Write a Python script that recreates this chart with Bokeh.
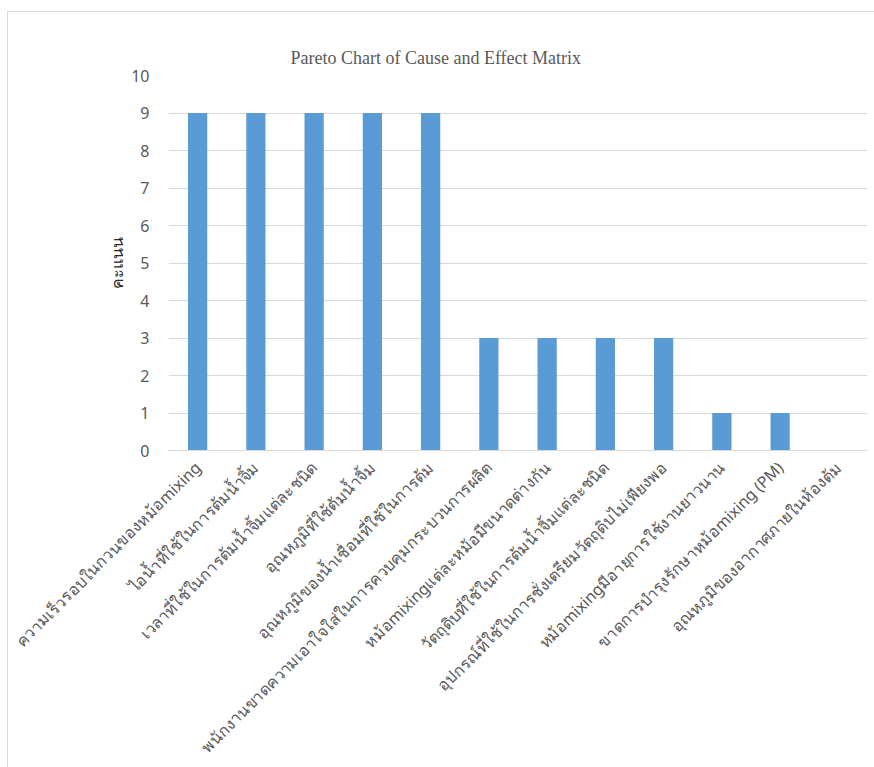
from math import pi

from bokeh.embed import file_html
from bokeh.models import ColumnDataSource, Title
from bokeh.plotting import figure
from bokeh.resources import INLINE

# Causes, in Pareto order, and their scores
causes = [
    "ความเร็วรอบในกวนของหม้อmixing",
    "ไอน้ำที่ใช้ในการต้มน้ำจิ้ม",
    "เวลาที่ใช้ในการต้มน้ำจิ้มแต่ละชนิด",
    "อุณหภูมิที่ใช้ต้มน้ำจิ้ม",
    "อุณหภูมิของน้ำเชื่อมที่ใช้ในการต้ม",
    "พนักงานขาดความเอาใจใส่ในการควบคุมกระบวนการผลิต",
    "หม้อmixingแต่ละหม้อมีขนาดต่างกัน",
    "วัตถุดิบที่ใช้ในการต้มน้ำจิ้มแต่ละชนิด",
    "อุปกรณ์ที่ใช้ในการชั่งเตรียมวัตถุดิบไม่เพียงพอ",
    "หม้อmixingมีอายุการใช้งานยาวนาน",
    "ขาดการบำรุงรักษาหม้อmixing (PM)",
    "อุณหภูมิของอากาศภายในห้องต้ม",
]
scores = [9, 9, 9, 9, 9, 3, 3, 3, 3, 1, 1, 0]
y_ticks = list(range(0, 11))

GRID = "#d9d9d9"
TEXT = "#595959"
BAR = "#5b9bd5"
FONT = "Noto Sans"

source = ColumnDataSource(dict(cause=causes, score=scores))

p = figure(
    x_range=causes,
    y_range=(0, 10),
    width=867,
    height=756,
    output_backend="svg",
    toolbar_location=None,
    min_border_left=160,
    min_border_right=8,
    min_border_top=63,
    min_border_bottom=318,
)
p.margin = (11, 0, 0, 7)
p.styles = {"border-top": f"1px solid {GRID}", "border-left": f"1px solid {GRID}"}

p.vbar(x="cause", top="score", width=0.33, source=source, color=BAR, line_color=None)

p.add_layout(
    Title(
        text="Pareto Chart of Cause and Effect Matrix",
        align="left",
        offset=122,
        text_font="Liberation Serif",
        text_font_size="18px",
        text_font_style="normal",
        text_color=TEXT,
        standoff=15,
    ),
    "above",
)

p.outline_line_color = None
p.background_fill_color = "white"
p.border_fill_color = "white"

p.xgrid.grid_line_color = None
p.ygrid.grid_line_color = GRID
p.ygrid.grid_line_width = 1
p.yaxis.ticker = y_ticks

p.yaxis.axis_line_color = None
p.yaxis.major_tick_line_color = None
p.yaxis.minor_tick_line_color = None
p.yaxis.major_label_text_font = FONT
p.yaxis.major_label_text_font_size = "16px"
p.yaxis.major_label_text_color = TEXT
p.yaxis.major_label_standoff = 13
p.yaxis.axis_label = "คะแนน"
p.yaxis.axis_label_text_font = FONT
p.yaxis.axis_label_text_font_size = "16px"
p.yaxis.axis_label_text_font_style = "normal"
p.yaxis.axis_label_text_color = "#262626"
p.yaxis.axis_label_standoff = 0

p.xaxis.axis_line_color = GRID
p.xaxis.major_tick_line_color = None
p.xaxis.minor_tick_line_color = None
p.xaxis.major_label_orientation = pi / 4
p.xaxis.major_label_text_font = FONT
p.xaxis.major_label_text_font_size = "16px"
p.xaxis.major_label_text_color = TEXT
p.xaxis.major_label_standoff = 8

open("out.html", "w").write(file_html(p, INLINE))
